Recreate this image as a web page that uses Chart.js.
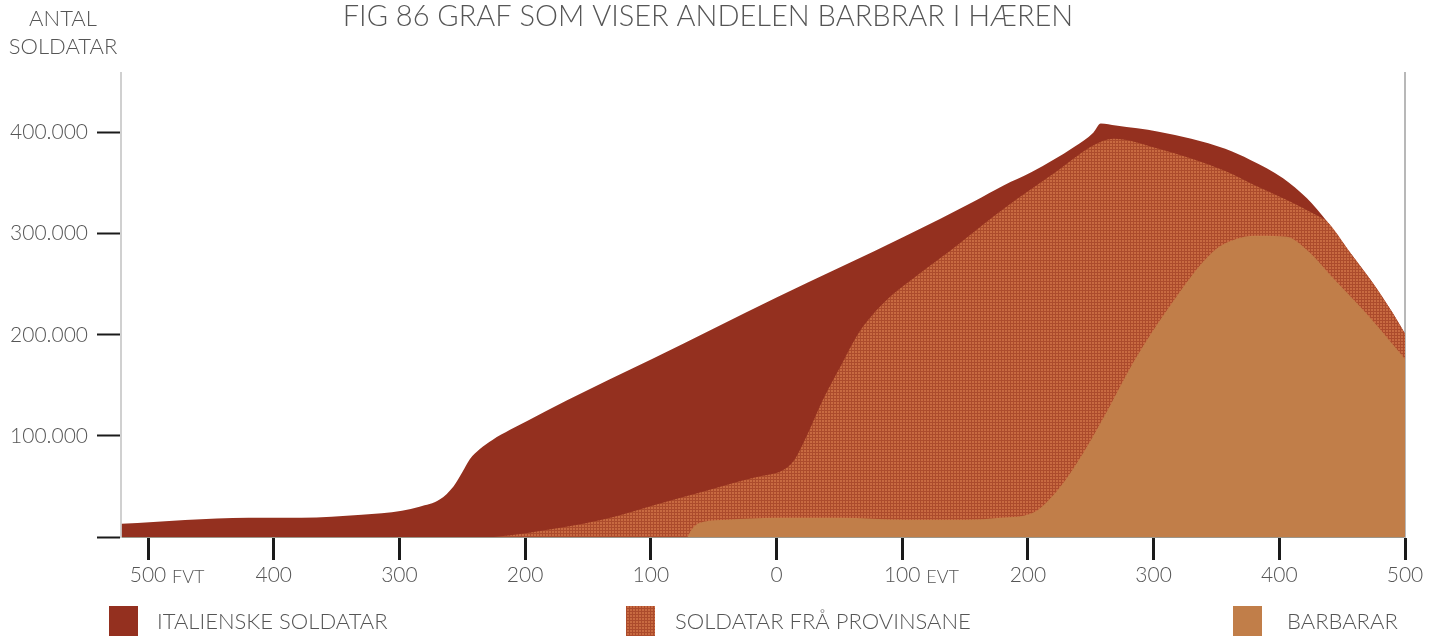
<!DOCTYPE html>
<html>
<head>
<meta charset="utf-8">
<script src="https://cdn.jsdelivr.net/npm/chart.js@4.4.1/dist/chart.umd.min.js"></script>
<style>
  html, body { margin: 0; padding: 0; background: #fff; }
  #wrap { position: relative; width: 1442px; height: 636px; }
</style>
</head>
<body>
<div id="wrap"><canvas id="c" width="1442" height="636"></canvas></div>
<script>
// ---- data (years: negative = FVT, values in soldiers) ----
const titleText = 'FIG 86 GRAF SOM VISER ANDELEN BARBRAR I HÆREN';
const yTitle = ['ANTAL', 'SOLDATAR'];
const seriesNames = ['ITALIENSKE SOLDATAR', 'SOLDATAR FRÅ PROVINSANE', 'BARBARAR'];

// top edge of the whole army (italian band on top)
const totalYears = [-521, -420, -378, -330, -298, -284, -268, -257, -250, -244, -236, -226, -212, -198, -167, -99, 0, 103, 157, 181, 203, 237, 252, 258, 270, 304, 330, 357, 377, 403, 422, 438, 456, 474, 490, 500];
const totalVals  = [13000, 19000, 19000, 22000, 26000, 30000, 37000, 50000, 64000, 77000, 87000, 96000, 106000, 115000, 135000, 176000, 237000, 298000, 332000, 348000, 361000, 386000, 400000, 409000, 407000, 401000, 394000, 384000, 373000, 355000, 335000, 312000, 282000, 252000, 222000, 201000];

// top edge of the provincial soldiers band
const provYears = [-225, -198, -139, -99, -58, -30, -13, 5, 14, 24, 37, 51, 66, 88, 110, 140, 181, 221, 253, 268, 304, 357, 377, 403, 430, 438, 456, 474, 490, 500];
const provVals  = [0, 4000, 17000, 31000, 45000, 55000, 60000, 66000, 76000, 100000, 136000, 169000, 203000, 235000, 257000, 285000, 325000, 360000, 388000, 394000, 384000, 362000, 350000, 335000, 318000, 312000, 282000, 252000, 222000, 201000];

// top edge of the barbarian band
const barbYears = [-71, -66, -58, -40, 0, 50, 103, 150, 178, 204, 226, 244, 265, 284, 311, 347, 369, 385, 406, 422, 443, 470, 500];
const barbVals  = [0, 10000, 15000, 17000, 19000, 19000, 17000, 17000, 19000, 24000, 50000, 83000, 129000, 173000, 225000, 282000, 296000, 298000, 297000, 284000, 256000, 220000, 176000];

const xTicks = [-500, -400, -300, -200, -100, 0, 100, 200, 300, 400, 500];
const yTicks = [0, 100000, 200000, 300000, 400000];
const eraMarks = [{ year: -500, text: 'FVT' }, { year: 100, text: 'EVT' }];

const colItalian = '#94301F';
const colBarb = '#C17E49';
const txtCol = '#555555';
const FONT = 'Lato, "Open Sans", "DejaVu Sans", sans-serif';

// cross-hatched pattern for provincial soldiers
function makePattern() {
  const p = document.createElement('canvas');
  p.width = 3; p.height = 3;
  const g = p.getContext('2d');
  g.fillStyle = '#C86A41';
  g.fillRect(0, 0, 3, 3);
  g.fillStyle = '#AC4B2C';
  g.fillRect(2, 0, 1, 3);
  g.fillRect(0, 2, 3, 1);
  return g.createPattern(p, 'repeat');
}
const provPattern = makePattern();

const pts = (xs, ys) => xs.map((x, i) => ({ x: x, y: ys[i] }));

const extrasPlugin = {
  id: 'extras',
  afterDraw(chart) {
    const ctx = chart.ctx;
    const xs = chart.scales.x;
    ctx.save();
    ctx.fillStyle = txtCol;
    // title
    ctx.font = '300 29px ' + FONT;
    ctx.textAlign = 'center';
    ctx.textBaseline = 'middle';
    ctx.fillText(titleText, 708, 17);
    // y title
    ctx.font = '300 22px ' + FONT;
    ctx.fillText(yTitle[0], 63, 19);
    ctx.fillText(yTitle[1], 63, 47);
    // era marks
    ctx.font = '300 18px ' + FONT;
    ctx.textAlign = 'left';
    eraMarks.forEach(m => {
      const px = xs.getPixelForValue(m.year);
      ctx.fillText(m.text, px + 24, 577);
    });
    // legend
    const leg = [
      { x: 109, tx: 157, fill: colItalian },
      { x: 626, tx: 675, fill: provPattern },
      { x: 1233, tx: 1287, fill: colBarb }
    ];
    ctx.font = '300 22px ' + FONT;
    leg.forEach((l, i) => {
      ctx.fillStyle = l.fill;
      ctx.fillRect(l.x, 606, 29, 30);
      ctx.fillStyle = txtCol;
      ctx.fillText(seriesNames[i], l.tx, 622);
    });
    ctx.restore();
  }
};

new Chart(document.getElementById('c'), {
  type: 'line',
  data: {
    datasets: [
      {
        label: seriesNames[0],
        data: pts(totalYears, totalVals),
        backgroundColor: colItalian,
        borderWidth: 0,
        fill: 'origin',
        order: 3
      },
      {
        label: seriesNames[1],
        data: pts(provYears, provVals),
        backgroundColor: provPattern,
        borderWidth: 0,
        fill: 'origin',
        order: 2
      },
      {
        label: seriesNames[2],
        data: pts(barbYears, barbVals),
        backgroundColor: colBarb,
        borderWidth: 0,
        fill: 'origin',
        order: 1
      }
    ]
  },
  options: {
    responsive: false,
    animation: false,
    events: [],
    layout: { padding: { top: 73, left: 0, right: 0, bottom: 0 } },
    elements: {
      point: { radius: 0 },
      line: { cubicInterpolationMode: 'monotone', borderWidth: 0 }
    },
    plugins: { legend: { display: false }, tooltip: { enabled: false }, title: { display: false } },
    scales: {
      x: {
        type: 'linear',
        min: -521.5,
        max: 500,
        afterBuildTicks: s => { s.ticks = xTicks.map(v => ({ value: v })); },
        afterFit: s => { s.height = 99; },
        grid: { drawOnChartArea: false, drawTicks: true, tickLength: 23, tickWidth: 3, color: '#1a1a1a' },
        border: { display: true, color: '#9c968a', width: 2 },
        ticks: {
          padding: 3,
          color: txtCol,
          font: { family: FONT, size: 21, weight: '300' },
          maxRotation: 0,
          callback: v => String(Math.abs(v))
        }
      },
      y: {
        min: 0,
        max: 459000,
        afterBuildTicks: s => { s.ticks = yTicks.map(v => ({ value: v })); },
        afterFit: s => { s.width = 121; },
        grid: { drawOnChartArea: false, drawTicks: true, tickLength: 24, tickWidth: 2, color: '#1a1a1a' },
        border: { display: true, color: '#d0d0d0', width: 2 },
        ticks: {
          padding: 9,
          color: txtCol,
          font: { family: FONT, size: 21, weight: '300' },
          callback: v => v === 0 ? '' : (v / 1000).toFixed(0) + '.000'
        }
      },
      y2: {
        position: 'right',
        min: 0,
        max: 459000,
        afterFit: s => { s.width = 37; },
        grid: { display: false },
        border: { display: true, color: '#b8b8b8', width: 2 },
        ticks: { display: false }
      }
    }
  },
  plugins: [extrasPlugin]
});
</script>
</body>
</html>
